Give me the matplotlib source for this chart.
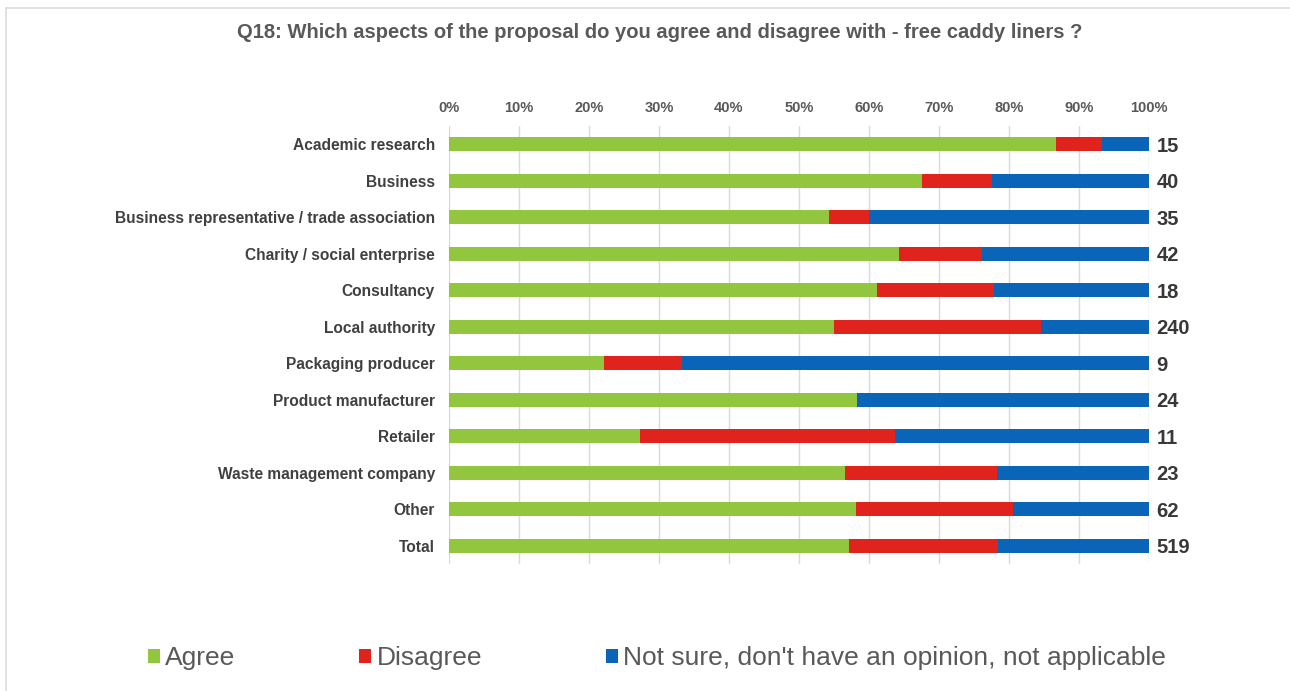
import matplotlib
matplotlib.use("Agg")
import matplotlib.pyplot as plt
from matplotlib.patches import Patch
from matplotlib.lines import Line2D

plt.rcParams['font.family'] = ['Liberation Sans', 'DejaVu Sans']

title = "Q18: Which aspects of the proposal do you agree and disagree with - free caddy liners ?"

categories = [
    "Academic research",
    "Business",
    "Business representative / trade association",
    "Charity / social enterprise",
    "Consultancy",
    "Local authority",
    "Packaging producer",
    "Product manufacturer",
    "Retailer",
    "Waste management company",
    "Other",
    "Total",
]
respondents = [15, 40, 35, 42, 18, 240, 9, 24, 11, 23, 62, 519]

# Share of respondents (%) per answer
agree = [86.7, 67.5, 54.3, 64.3, 61.1, 55.0, 22.2, 58.3, 27.3, 56.5, 58.1, 57.2]
disagree = [6.6, 10.0, 5.7, 11.9, 16.7, 29.6, 11.1, 0.0, 36.4, 21.8, 22.5, 21.2]
not_sure = [6.7, 22.5, 40.0, 23.8, 22.2, 15.4, 66.7, 41.7, 36.3, 21.7, 19.4, 21.6]

series_labels = ["Agree", "Disagree", "Not sure, don't have an opinion, not applicable"]
colors = ["#92C63E", "#E0231C", "#0A64B7"]
ticks = [0, 10, 20, 30, 40, 50, 60, 70, 80, 90, 100]

W, H = 1290, 691
fig = plt.figure(figsize=(W / 100, H / 100), dpi=100)
fig.patch.set_facecolor("white")

ax = fig.add_axes([449 / W, 1 - 564 / H, 700 / W, 438 / H])
ypos = list(range(len(categories)))
bar_h = 0.38
left = [0.0] * len(categories)
for vals, col in zip([agree, disagree, not_sure], colors):
    ax.barh(ypos, vals, left=left, height=bar_h, color=col, linewidth=0, zorder=3)
    left = [l + v for l, v in zip(left, vals)]

ax.set_xlim(0, 100)
ax.set_ylim(len(categories) - 0.5, -0.5)
ax.set_yticks(ypos)
ax.set_yticklabels(categories, fontsize=11.2, fontweight="bold", color="#404040")
ax.set_xticks(ticks)
ax.set_xticklabels([f"{t}%" for t in ticks], fontsize=10.5, fontweight="bold", color="#595959")
ax.xaxis.tick_top()
ax.tick_params(axis="both", length=0)
ax.tick_params(axis="x", pad=8)
ax.tick_params(axis="y", pad=10)
ax.grid(axis="x", color="#DADADA", linewidth=1, zorder=0)
for s in ax.spines.values():
    s.set_visible(False)

for y, n in zip(ypos, respondents):
    ax.text(101.1, y, str(n), va="center_baseline", ha="left", fontsize=14.5,
            fontweight="bold", color="#383838", clip_on=False)

fig.text(660 / W, 1 - 32 / H, title, ha="center", va="center",
         fontsize=14.5, fontweight="bold", color="#595959")

handles = [Patch(facecolor=c, edgecolor="none") for c in colors]
fig.legend(handles, series_labels, loc="center left",
           bbox_to_anchor=(148 / W, 1 - 658 / H), ncol=3, frameon=False,
           fontsize=19, labelcolor="#595959", handlelength=0.45,
           handleheight=0.45, handletextpad=0.2, columnspacing=4.7,
           borderaxespad=0, borderpad=0)

# light frame around the chart area
fig.add_artist(Line2D([6 / W, 1.0], [1 - 8 / H, 1 - 8 / H],
                      transform=fig.transFigure, color="#DDDDDD", linewidth=1.2))
fig.add_artist(Line2D([6 / W, 6 / W], [0.0, 1 - 8 / H],
                      transform=fig.transFigure, color="#DDDDDD", linewidth=1.2))

fig.savefig("out.png", dpi=100, facecolor="white")
